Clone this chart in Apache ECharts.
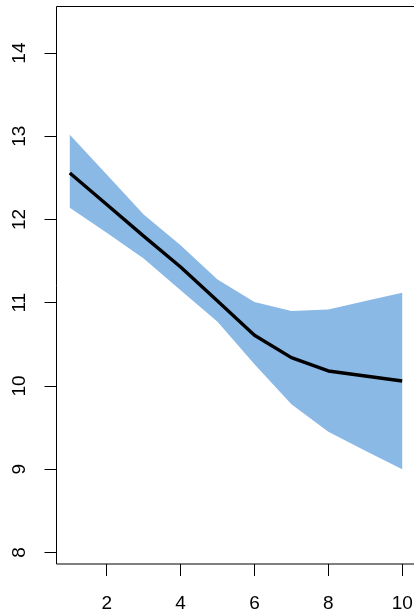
<!DOCTYPE html>
<html>
<head>
<meta charset="utf-8">
<script src="https://cdn.jsdelivr.net/npm/echarts@6/dist/echarts.min.js"></script>
<style>
html,body{margin:0;padding:0;background:#fff;}
#chart{width:414px;height:614px;}
</style>
</head>
<body>
<div id="chart"></div>
<script>
var xs = [1, 2, 3, 4, 5, 6, 7, 8, 9, 10];
var mid = [12.56, 12.18, 11.80, 11.43, 11.02, 10.61, 10.34, 10.18, 10.12, 10.06];
var upper = [13.02, 12.54, 12.06, 11.69, 11.28, 11.01, 10.90, 10.92, 11.02, 11.12];
var lower = [12.14, 11.84, 11.53, 11.15, 10.77, 10.26, 9.78, 9.45, 9.22, 9.00];
var xTicks = [2, 4, 6, 8, 10];
var yTicks = [8, 9, 10, 11, 12, 13, 14];

var chart = echarts.init(document.getElementById('chart'));
var font = 'Liberation Sans, Arial, Helvetica, sans-serif';
chart.setOption({
  animation: false,
  grid: {
    left: 56.5, top: 6.5, width: 359, height: 557.5,
    outerBoundsMode: 'none', containLabel: false,
    show: true, borderColor: '#000', borderWidth: 1, backgroundColor: 'transparent'
  },
  xAxis: {
    type: 'value', min: 0.64, max: 10.36,
    axisLine: { show: false },
    splitLine: { show: false },
    axisTick: { show: true, inside: false, length: 12, customValues: xTicks, lineStyle: { color: '#000', width: 1 } },
    axisLabel: { customValues: xTicks, margin: 30, fontSize: 19, color: '#000', fontFamily: font, hideOverlap: false }
  },
  yAxis: {
    type: 'value', min: 7.86, max: 14.56,
    axisLine: { show: false },
    splitLine: { show: false },
    axisTick: { show: true, inside: false, length: 12, customValues: yTicks, lineStyle: { color: '#000', width: 1 } },
    axisLabel: { customValues: yTicks, rotate: 90, margin: 27, fontSize: 19, color: '#000', fontFamily: font, align: 'center', verticalAlign: 'bottom' }
  },
  series: [
    {
      type: 'custom',
      data: [0],
      renderItem: function (params, api) {
        var pts = [];
        for (var i = 0; i < xs.length; i++) pts.push(api.coord([xs[i], upper[i]]));
        for (var j = xs.length - 1; j >= 0; j--) pts.push(api.coord([xs[j], lower[j]]));
        return { type: 'polygon', shape: { points: pts }, style: { fill: '#8ab9e6', stroke: null } };
      },
      silent: true,
      z: 1
    },
    {
      type: 'line',
      data: xs.map(function (x, i) { return [x, mid[i]]; }),
      symbol: 'none',
      lineStyle: { color: '#000', width: 3.4 },
      silent: true,
      z: 3
    }
  ]
});
</script>
</body>
</html>
